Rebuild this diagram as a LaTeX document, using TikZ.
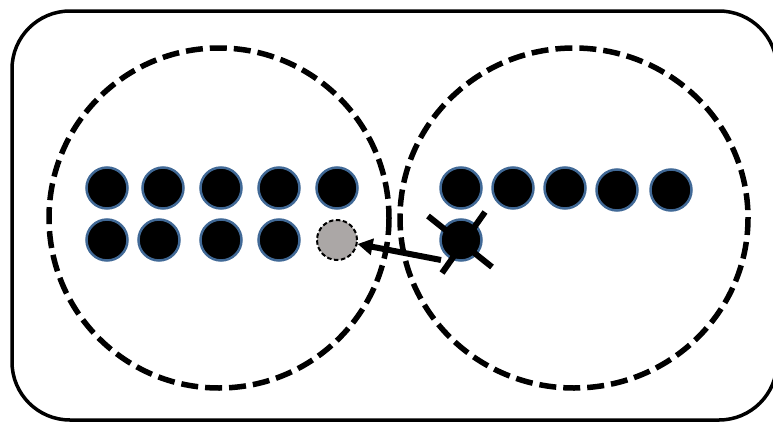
\documentclass[tikz,border=0pt]{standalone}
\usetikzlibrary{arrows.meta}
\begin{document}
\begin{tikzpicture}[x=1pt,y=-1pt,
  dot/.style={circle,fill=black,draw={rgb,255:red,65;green,105;blue,150},line width=2.5pt,minimum size=41pt,inner sep=0pt},
  ghost/.style={circle,fill={rgb,255:red,171;green,167;blue,166},draw=black,dash pattern=on 4.5pt off 2.5pt,line width=2pt,minimum size=40pt,inner sep=0pt},
  region/.style={draw=black,line width=5.5pt,dash pattern=on 17pt off 7pt},
  frame/.style={draw=black,line width=3.5pt,rounded corners=58pt},
  thick line/.style={line width=6pt}]
\useasboundingbox (0,0) rectangle (773,423);
\draw[frame] (12,11) rectangle (777,420);
\draw[region] (219,218) ellipse [x radius=170, y radius=170];
\draw[region] (574,218) ellipse [x radius=174, y radius=170];
% left set
\node[dot] (l1) at (107,188) {};
\node[dot] (l2) at (163,188) {};
\node[dot] (l3) at (221,188) {};
\node[dot] (l4) at (279,188) {};
\node[dot] (l5) at (337,188) {};
\node[dot] (l6) at (107,240) {};
\node[dot] (l7) at (159,240) {};
\node[dot] (l8) at (221,240) {};
\node[dot] (l9) at (279,240) {};
\node[ghost] (g) at (337,240) {};
% right set
\node[dot] (r1) at (461,188) {};
\node[dot] (r2) at (513,188) {};
\node[dot] (r3) at (565,188) {};
\node[dot] (r4) at (617,190) {};
\node[dot] (r5) at (671,190) {};
\node[dot] (r6) at (461,240) {};
% cross
\coordinate (c1) at (428,216);
\coordinate (c2) at (492,267);
\coordinate (c3) at (485,212);
\coordinate (c4) at (442,273);
\draw[thick line] (c1) -- (c2);
\draw[thick line] (c3) -- (c4);
% arrow
\coordinate (s) at (441,260);
\draw[thick line,-{Triangle[length=15pt,width=16pt]}] (s) -- (g);
\end{tikzpicture}
\end{document}
